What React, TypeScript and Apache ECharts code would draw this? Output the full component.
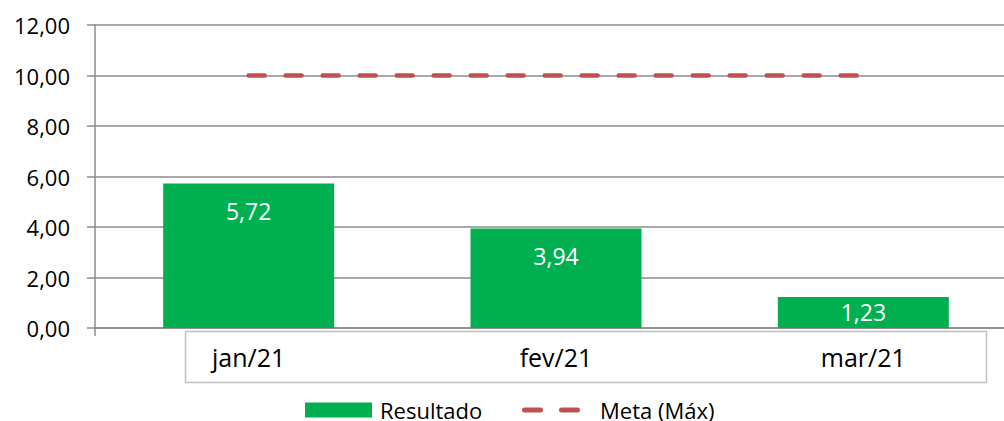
import React, { useEffect, useRef } from "react";
import * as echarts from "echarts";

const categories = ["jan/21", "fev/21", "mar/21"];
const resultado = [5.72, 3.94, 1.23];
const meta = [10, 10, 10];

const FONT = "'Open Sans', 'Noto Sans', sans-serif";
const fmt = (v: number) => v.toFixed(2).replace(".", ",");

const DASH_ICON =
  "path://M2.5,0h16a2.5,2.5 0 0 1 0,5h-16a2.5,2.5 0 0 1 0,-5z M39.5,0h16a2.5,2.5 0 0 1 0,5h-16a2.5,2.5 0 0 1 0,-5z";

export default function App() {
  const ref = useRef<HTMLDivElement>(null);
  useEffect(() => {
    if (!ref.current) return;
    const chart = echarts.init(ref.current, undefined, { renderer: "svg" });
    chart.setOption({
      animation: false,
      grid: { left: 95, top: 25, width: 922, height: 303, containLabel: false },
      legend: [
        {
          data: [{ name: "Resultado", icon: "rect" }],
          left: 300,
          top: 394,
          itemWidth: 67,
          itemHeight: 15,
          textStyle: { fontFamily: FONT, fontSize: 22, color: "#000", padding: [0, 0, 0, 3] },
        },
        {
          data: [{ name: "Meta (Máx)", icon: DASH_ICON }],
          left: 517,
          top: 394,
          itemWidth: 58,
          itemHeight: 5,
          itemStyle: { color: "#C0504D" },
          textStyle: { fontFamily: FONT, fontSize: 22, color: "#000", padding: [0, 0, 0, 15] },
        },
      ],
      xAxis: {
        type: "category",
        data: categories,
        boundaryGap: true,
        axisLine: { lineStyle: { color: "#8c8c8c", width: 1.5 } },
        axisTick: { show: true, length: 8, interval: (i: number) => i === 0, lineStyle: { color: "#8c8c8c", width: 1.5 } },
        axisLabel: { fontFamily: FONT, fontSize: 25, color: "#000", margin: 16 },
      },
      yAxis: {
        type: "value",
        min: 0,
        max: 12,
        interval: 2,
        axisLine: { show: true, lineStyle: { color: "#8c8c8c", width: 1.5 } },
        axisTick: { show: true, length: 8, lineStyle: { color: "#8c8c8c", width: 1.5 } },
        splitLine: { lineStyle: { color: "#8c8c8c", width: 1.5 } },
        axisLabel: { fontFamily: FONT, fontSize: 22, color: "#000", margin: 25, formatter: (v: number) => fmt(v) },
      },
      graphic: [
        {
          type: "rect",
          z: 1,
          shape: { x: 185.5, y: 331.5, width: 801, height: 51 },
          style: { fill: "none", stroke: "#c0c0c0", lineWidth: 1.5 },
        },
      ],
      series: [
        {
          name: "Resultado",
          type: "bar",
          data: resultado.map((v) =>
            v < 2 ? { value: v, label: { position: "inside" } } : { value: v }
          ),
          barWidth: 171,
          itemStyle: { color: "#00B050" },
          label: {
            show: true,
            position: "insideTop",
            distance: 16,
            color: "#fff",
            fontFamily: FONT,
            fontSize: 23,
            formatter: (p: any) => fmt(p.value),
          },
        },
        {
          name: "Meta (Máx)",
          type: "line",
          data: meta,
          symbol: "none",
          z: 3,
          lineStyle: { color: "#C0504D", width: 4.5, type: [16, 21], cap: "round" },
          itemStyle: { color: "#C0504D" },
        },
      ],
    });
    return () => chart.dispose();
  }, []);
  return (
    <div
      ref={ref}
      style={{ position: "fixed", left: 0, top: 0, width: 1030, height: 421, background: "#fff" }}
    />
  );
}
